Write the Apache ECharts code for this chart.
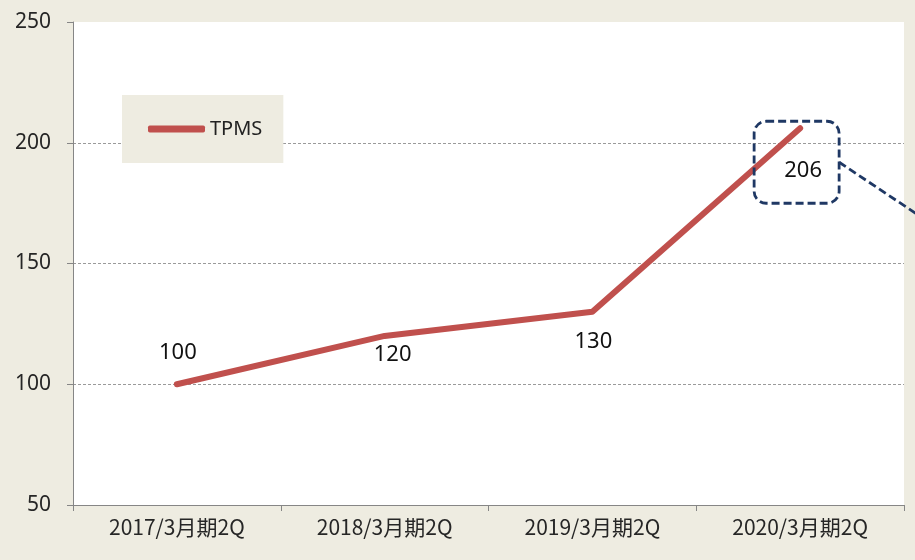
<!DOCTYPE html>
<html>
<head>
<meta charset="utf-8">
<style>
  html, body { margin: 0; padding: 0; background: #EEECE1; }
  #chart { width: 915px; height: 560px; }
</style>
<script src="https://cdn.jsdelivr.net/npm/echarts@6/dist/echarts.min.js"></script>
</head>
<body>
<div id="chart"></div>
<script>
// chart data
const categories = ['2017/3月期2Q', '2018/3月期2Q', '2019/3月期2Q', '2020/3月期2Q'];
const tpmsValues = [100, 120, 130, 206];
const seriesName = 'TPMS';
const yTicks = [50, 100, 150, 200, 250];

// label offsets relative to each point (style only)
const labelOffsets = [[1, -32], [8, 19], [1, 30], [3, 42]];

const lineColor = '#C0504D';
const axisColor = '#868686';

const chart = echarts.init(document.getElementById('chart'));

chart.setOption({
  backgroundColor: '#EEECE1',
  animation: false,
  grid: {
    left: 73,
    right: 11,
    top: 22,
    bottom: 55,
    show: true,
    backgroundColor: '#ffffff',
    borderWidth: 0,
  },
  legend: {
    data: [seriesName],
    left: 122,
    top: 95,
    padding: [24, 21, 24, 26],
    backgroundColor: '#EEECE1',
    icon: 'roundRect',
    itemWidth: 57,
    itemHeight: 7,
    itemStyle: { color: lineColor },
    textStyle: {
      fontFamily: 'Noto Sans',
      fontSize: 20,
      color: '#222',
    },
  },
  xAxis: {
    type: 'category',
    data: categories,
    boundaryGap: true,
    axisLine: { lineStyle: { color: axisColor, width: 1 } },
    axisTick: { show: true, length: 6, lineStyle: { color: axisColor } },
    axisLabel: {
      margin: 12,
      fontFamily: 'Noto Sans CJK JP',
      fontSize: 21,
      color: '#262626',
    },
  },
  yAxis: {
    type: 'value',
    min: yTicks[0],
    max: yTicks[yTicks.length - 1],
    interval: 50,
    axisLine: { show: true, lineStyle: { color: axisColor, width: 1 } },
    axisTick: { show: true, length: 6, lineStyle: { color: axisColor } },
    axisLabel: {
      margin: 22,
      fontFamily: 'Noto Sans',
      fontSize: 21,
      color: '#262626',
    },
    splitLine: {
      show: true,
      showMinLine: false,
      showMaxLine: false,
      lineStyle: { color: '#9a9a9a', type: [3, 2], width: 1 },
    },
  },
  series: [{
    name: seriesName,
    type: 'line',
    data: tpmsValues.map((v, i) => ({
      value: v,
      label: { offset: labelOffsets[i] },
    })),
    showSymbol: true,
    symbol: 'circle',
    symbolSize: 2,
    lineStyle: { color: lineColor, width: 6, cap: 'round', join: 'round' },
    itemStyle: { color: lineColor },
    label: {
      show: true,
      position: 'inside',
      fontFamily: 'Noto Sans',
      fontSize: 22,
      color: '#111',
    },
  }],
});

// dashed callout around the last value
const last = tpmsValues.length - 1;
const p = chart.convertToPixel({ seriesIndex: 0 }, [last, tpmsValues[last]]);
const navy = '#1F3864';
chart.setOption({
  graphic: [
    {
      type: 'rect',
      shape: { x: p[0] - 46, y: p[1] - 7, width: 85, height: 82, r: 12 },
      style: { fill: 'none', stroke: navy, lineWidth: 2.8, lineDash: [8, 4] },
      z: 10,
    },
    {
      type: 'line',
      shape: { x1: p[0] + 39, y1: p[1] + 34, x2: p[0] + 120, y2: p[1] + 88 },
      style: { stroke: navy, lineWidth: 2.8, lineDash: [8, 4] },
      z: 10,
    },
  ],
});
</script>
</body>
</html>
